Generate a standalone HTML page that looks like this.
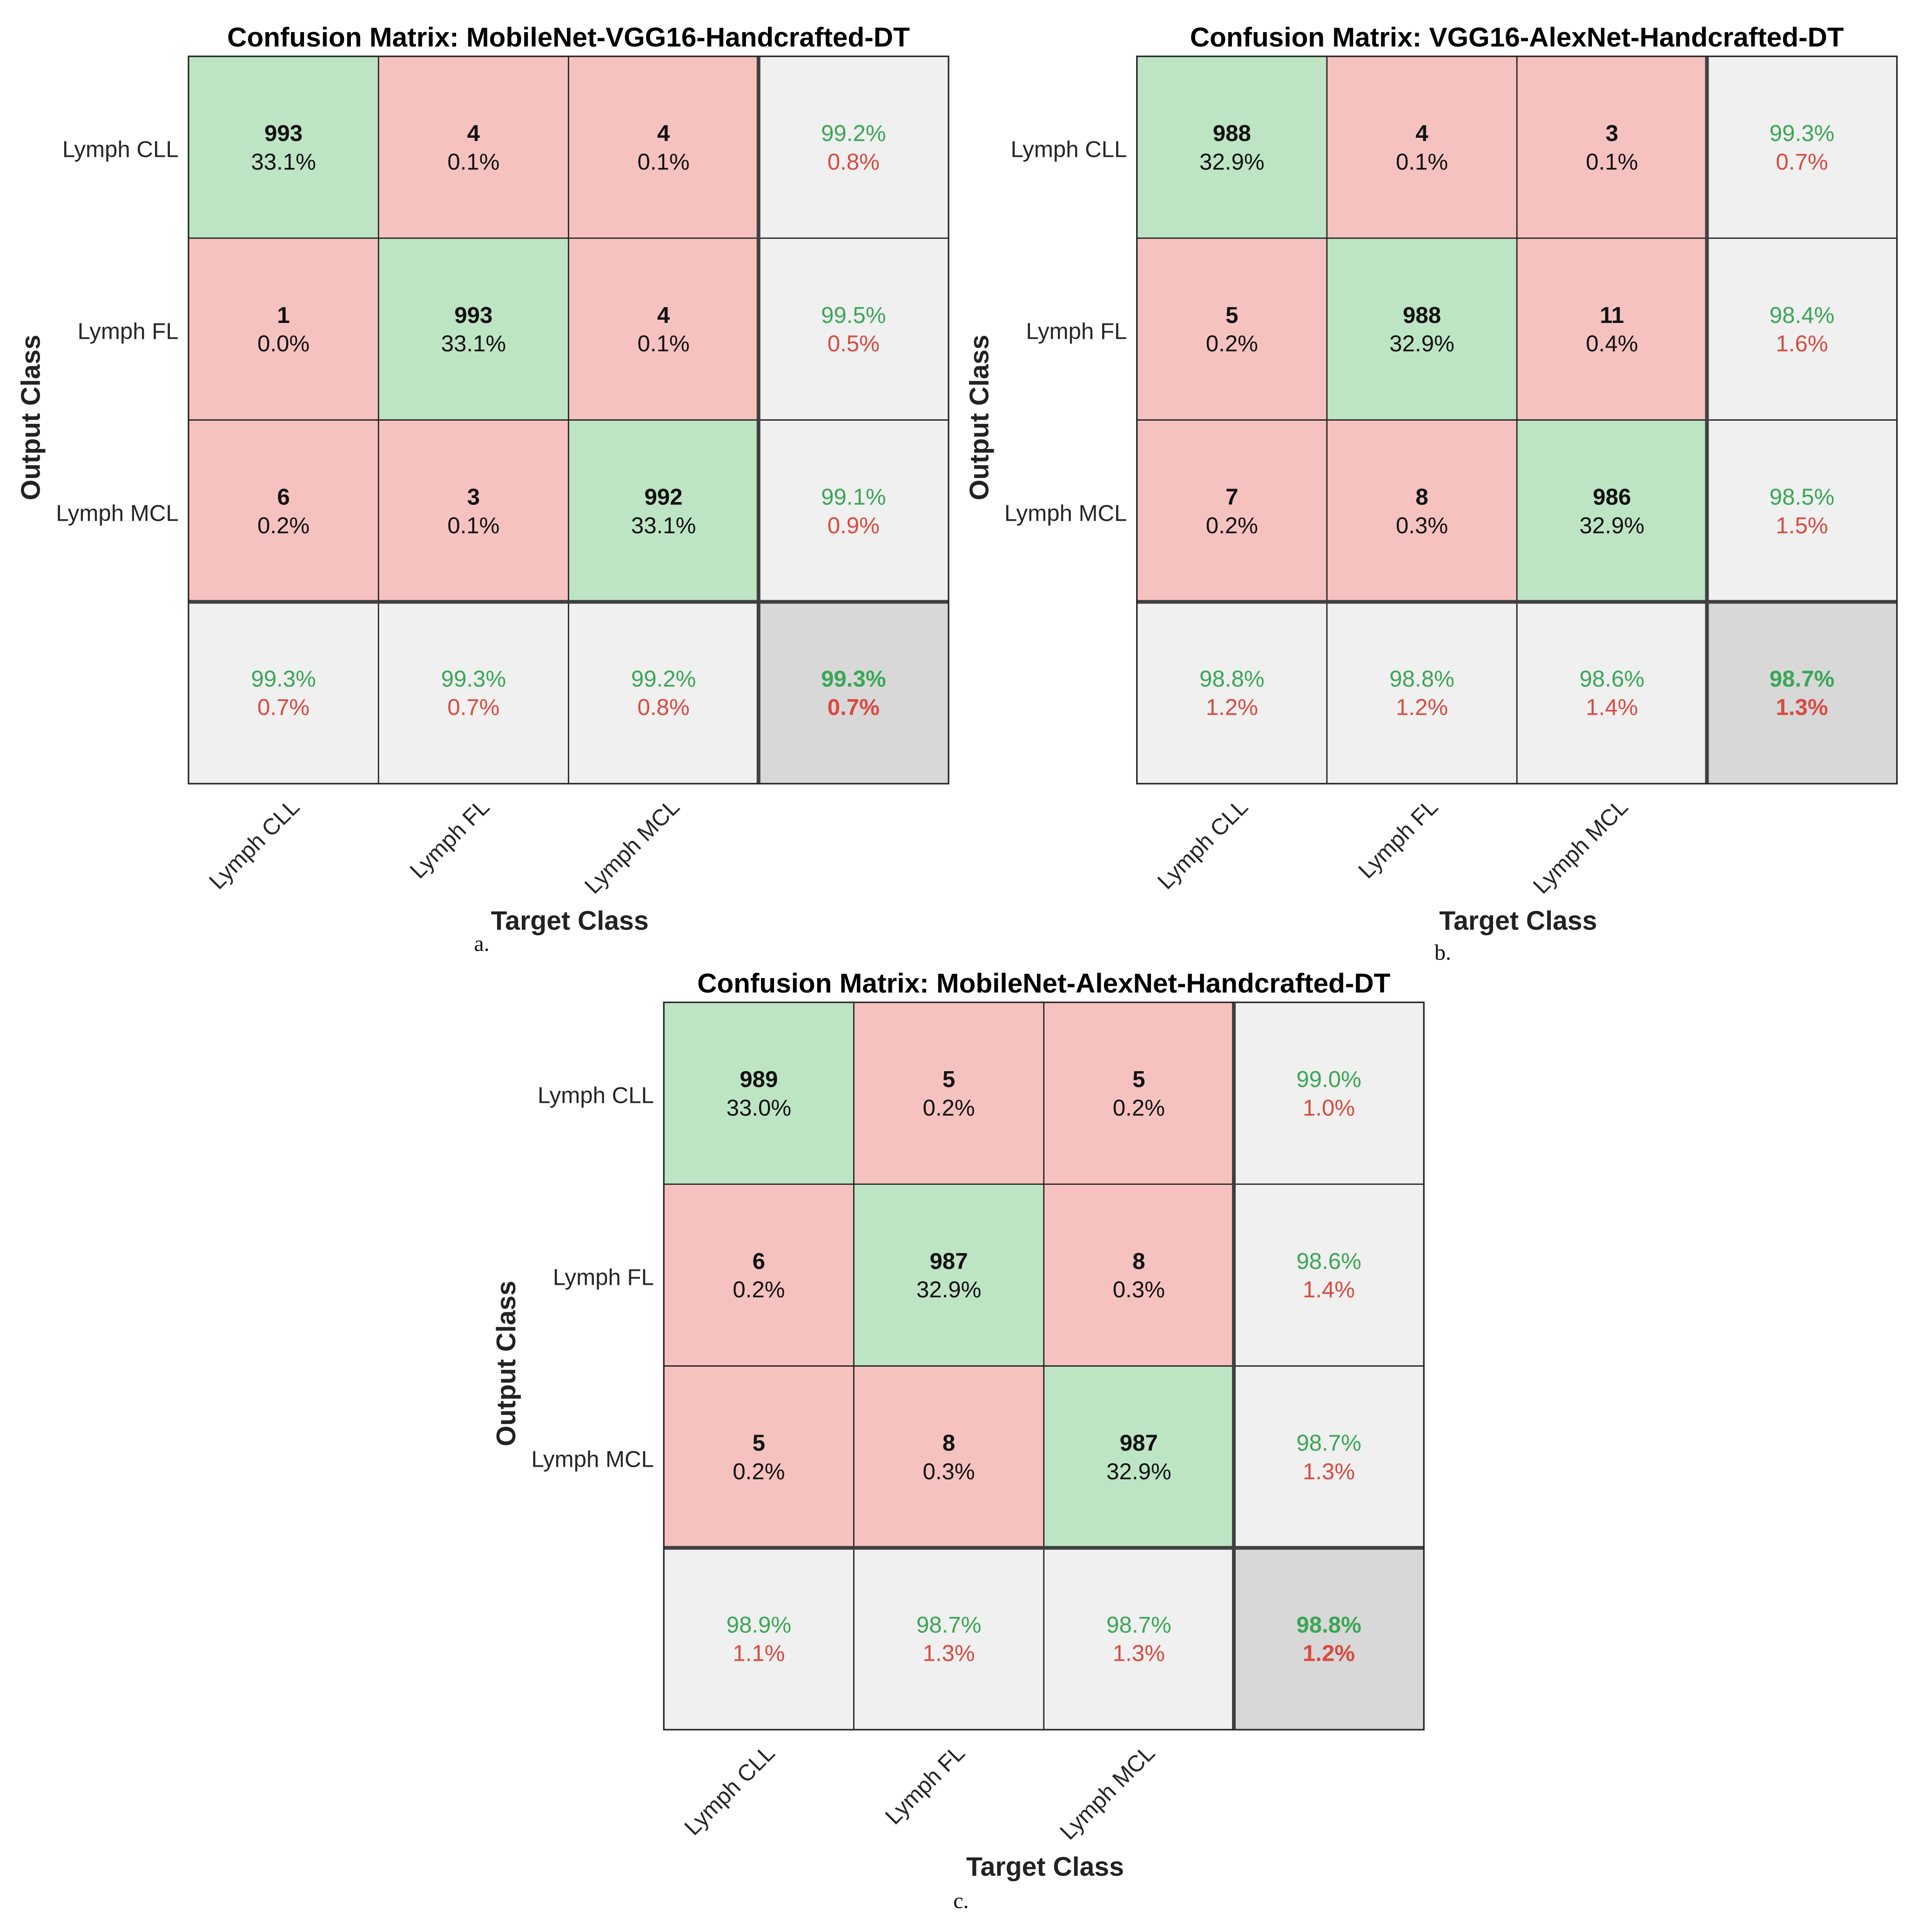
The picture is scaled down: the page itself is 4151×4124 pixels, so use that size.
<!DOCTYPE html>
<html><head><meta charset="utf-8"><style>
html,body{margin:0;padding:0;background:#fff;}
svg{display:block;}
text{font-family:"Liberation Sans",Arial,sans-serif;}
</style></head><body>
<svg id="fig" width="4151" height="4124" viewBox="0 0 1560 1549.8" preserveAspectRatio="none" xmlns="http://www.w3.org/2000/svg"></svg>
<script>
const classes = ["Lymph CLL","Lymph FL","Lymph MCL"];
const titles = ["Confusion Matrix: MobileNet-VGG16-Handcrafted-DT","Confusion Matrix: VGG16-AlexNet-Handcrafted-DT","Confusion Matrix: MobileNet-AlexNet-Handcrafted-DT"];
const panelLetters = ["a.","b.","c."];
const countsA = [[993,4,4],[1,993,4],[6,3,992]];
const pctA = [["33.1%","0.1%","0.1%"],["0.0%","33.1%","0.1%"],["0.2%","0.1%","33.1%"]];
const rowAccA = [["99.2%","0.8%"],["99.5%","0.5%"],["99.1%","0.9%"]];
const colAccA = [["99.3%","0.7%"],["99.3%","0.7%"],["99.2%","0.8%"]];
const totA = ["99.3%","0.7%"];
const countsB = [[988,4,3],[5,988,11],[7,8,986]];
const pctB = [["32.9%","0.1%","0.1%"],["0.2%","32.9%","0.4%"],["0.2%","0.3%","32.9%"]];
const rowAccB = [["99.3%","0.7%"],["98.4%","1.6%"],["98.5%","1.5%"]];
const colAccB = [["98.8%","1.2%"],["98.8%","1.2%"],["98.6%","1.4%"]];
const totB = ["98.7%","1.3%"];
const countsC = [[989,5,5],[6,987,8],[5,8,987]];
const pctC = [["33.0%","0.2%","0.2%"],["0.2%","32.9%","0.3%"],["0.2%","0.3%","32.9%"]];
const rowAccC = [["99.0%","1.0%"],["98.6%","1.4%"],["98.7%","1.3%"]];
const colAccC = [["98.9%","1.1%"],["98.7%","1.3%"],["98.7%","1.3%"]];
const totC = ["98.8%","1.2%"];

const NS="http://www.w3.org/2000/svg";
const svg=document.getElementById('fig');
function mk(tag,attrs,parent,txt){const e=document.createElementNS(NS,tag);for(const k in attrs)e.setAttribute(k,attrs[k]);if(txt!==undefined)e.textContent=txt;(parent||svg).appendChild(e);return e;}

const panels=[
 {x:152.2,y:45.5,counts:countsA,pct:pctA,row:rowAccA,col:colAccA,tot:totA,lx:389,ly:768,id:'a'},
 {x:918,y:45.5,counts:countsB,pct:pctB,row:rowAccB,col:colAccB,tot:totB,lx:1165,ly:775,id:'b'},
 {x:536,y:809.5,counts:countsC,pct:pctC,row:rowAccC,col:colAccC,tot:totC,lx:776,ly:1541,id:'c'}
];
const W=613.7,H=587.4,cw=W/4,ch=H/4;
const GREEN='#bde5c4',RED='#f6c2bf',GRAY='#f0f0f0',DGRAY='#d8d8d8',GT='#3aa655',RT='#d94a40';
const FS=18.5;

panels.forEach((p,pi)=>{
  const g=mk('g',{});
  
  
  const cx=i=>p.x+cw*i, cy=i=>p.y+ch*i;
  const t=mk('text',{x:p.x+W/2,y:p.y-8,'text-anchor':'middle','font-size':22,'font-weight':'bold',fill:'#000'},g,titles[pi]);
  
  
  for(let r=0;r<4;r++)for(let c=0;c<4;c++){
    let fill;
    if(r<3&&c<3) fill = r===c?GREEN:RED;
    else if(r===3&&c===3) fill=DGRAY; else fill=GRAY;
    const rc=mk('rect',{x:cx(c),y:cy(r),width:cw,height:ch,fill:fill,stroke:'#222','stroke-width':1},g);
    
    
    const mx=cx(c)+cw/2,my=cy(r)+ch/2;
    let l1,l2,c1,c2,bold=false;
    if(r<3&&c<3){l1=String(p.counts[r][c]);l2=p.pct[r][c];c1='#111';c2='#111';bold=true;}
    else if(c===3&&r<3){l1=p.row[r][0];l2=p.row[r][1];c1=GT;c2=RT;}
    else if(r===3&&c<3){l1=p.col[c][0];l2=p.col[c][1];c1=GT;c2=RT;}
    else {l1=p.tot[0];l2=p.tot[1];c1=GT;c2=RT;}
    const big=(r===3&&c===3);
    const a=mk('text',{x:mx,y:my-5,'text-anchor':'middle','font-size':FS,'font-weight':(bold||big)?'bold':'normal',fill:c1},g,l1);
    
    
    const b=mk('text',{x:mx,y:my+18,'text-anchor':'middle','font-size':FS,'font-weight':big?'bold':'normal',fill:c2},g,l2);
    
    
  }
  mk('line',{x1:cx(3),y1:p.y,x2:cx(3),y2:p.y+H,stroke:'#404040','stroke-width':3},g);
  mk('line',{x1:p.x,y1:cy(3),x2:p.x+W,y2:cy(3),stroke:'#404040','stroke-width':3},g);
  mk('rect',{x:p.x,y:p.y,width:W,height:H,fill:'none',stroke:'#222','stroke-width':1.2},g);
  classes.forEach((cl,i)=>{
    const rl=mk('text',{x:p.x-8,y:cy(i)+ch/2+8,'text-anchor':'end','font-size':FS,fill:'#262626'},g,cl);
    
    
    const ax=cx(i)+cw/2+14, ay=p.y+H+20;
    const xl=mk('text',{x:ax,y:ay,'text-anchor':'end','font-size':FS,fill:'#262626',transform:'rotate(-45 '+ax+' '+ay+')'},g,cl);
    
    
  });
  const xt=mk('text',{x:p.x+W/2+1,y:p.y+H+118,'text-anchor':'middle','font-size':21.5,'font-weight':'bold',fill:'#222'},g,'Target Class');
  
  
  const yx=p.x-120,yy=p.y+H/2-2;
  const yt=mk('text',{x:yx,y:yy,'text-anchor':'middle','font-size':21.5,'font-weight':'bold',fill:'#222',transform:'rotate(-90 '+yx+' '+yy+')'},g,'Output Class');
  
  
  const lt=mk('text',{x:p.lx,y:p.ly,'text-anchor':'middle','font-size':18,fill:'#111'},g,panelLetters[pi]);
  lt.style.fontFamily='"Liberation Serif",serif';
  
  
});
</script>
</body></html>
